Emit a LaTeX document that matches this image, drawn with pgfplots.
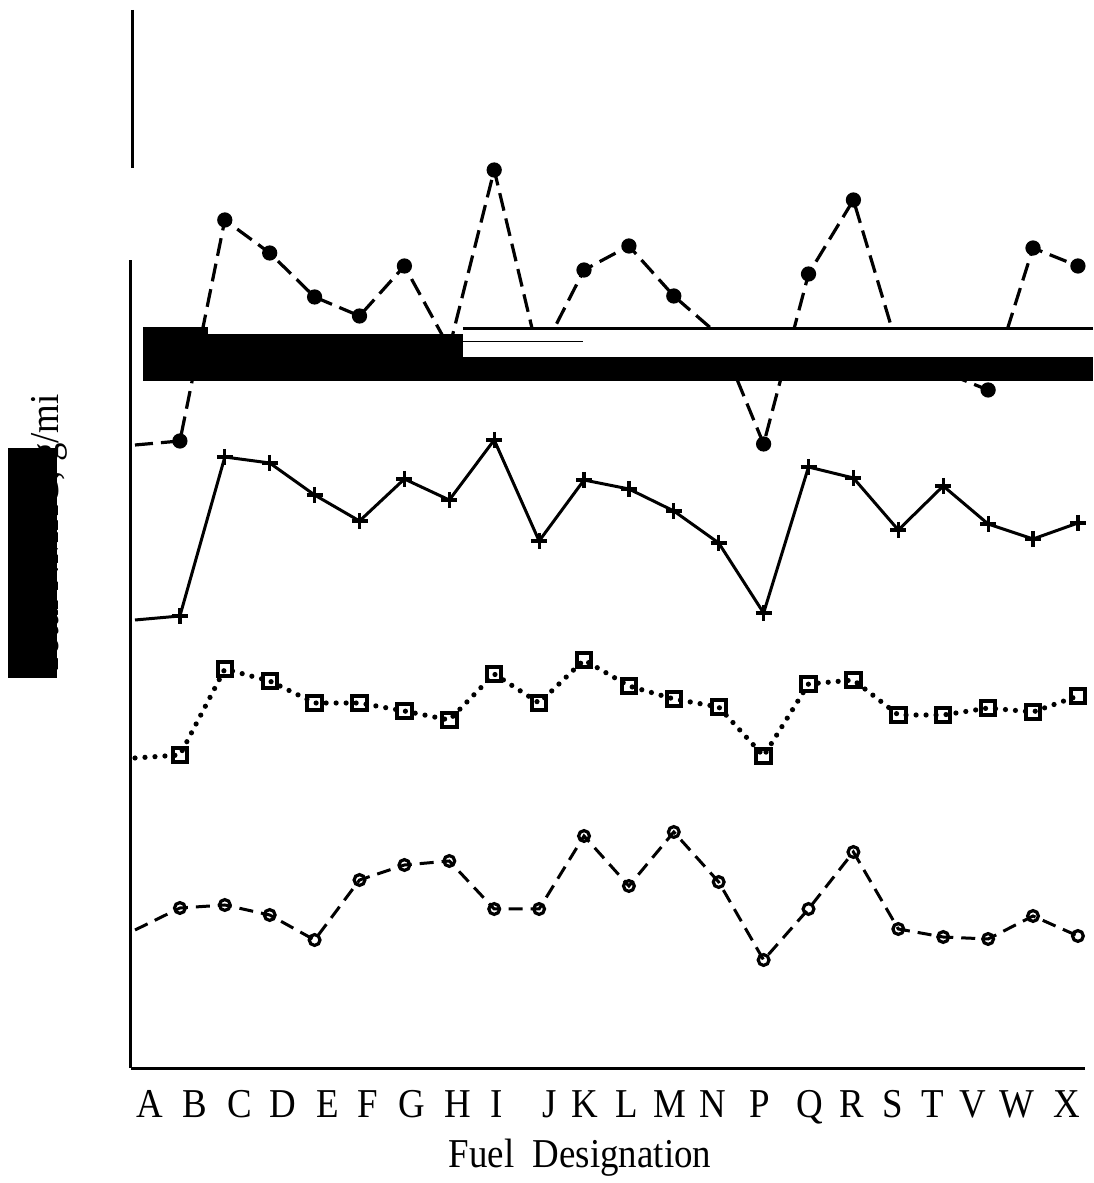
\documentclass[border=0pt]{standalone}
\usepackage{pgfplots}
\pgfplotsset{compat=1.18}
\usepackage{fontspec}
\setmainfont{Liberation Serif}[FakeStretch=0.9]
\begin{document}
\begin{tikzpicture}
\begin{axis}[
  set layers,
  x=22.45pt, y=0.5pt,
  xmin=-0.09, xmax=21.16, ymin=0, ymax=808,
  axis x line*=bottom, axis y line*=left,
  axis line style={line width=1.5pt, -},
  ytick=\empty,
  xtick={0.33,1.34,2.34,3.30,4.30,5.19,6.17,7.19,8.06,9.24,10.02,10.96,11.92,12.87,13.92,15.03,15.97,16.88,17.77,18.66,19.64,20.76},
  xticklabels={A,B,C,D,E,F,G,H,I,J,K,L,M,N,P,Q,R,S,T,V,W,X},
  xtick style={draw=none},
  xticklabel style={font=\fontsize{20.5}{24}\selectfont, anchor=base, yshift=-24.5pt},
  clip=false,
]
% filled circles, dashed
\addplot[black, line width=1.6pt, dash pattern=on 9pt off 4pt, mark=*, mark size=3pt, mark phase=2, mark options={solid}]
coordinates {(0,623)(1,627)(2,848)(3,815)(4,771)(5,752)(6,802)(7,720)(8,898)(9,710)(10,798)(11,822)(12,772)(13,733)(14,624)(15,794)(16,868)(17,718)(18,696)(19,678)(20,820)(21,802)};
% plus, solid
\addplot[black, line width=1.5pt, mark=+, mark size=4pt, mark phase=2, mark options={line width=1.6pt}]
coordinates {(0,448)(1,452)(2,611)(3,605)(4,573)(5,547)(6,589)(7,568)(8,628)(9,527)(10,588)(11,579)(12,557)(13,525)(14,455)(15,601)(16,590)(17,538)(18,582)(19,544)(20,529)(21,545)};
% squares, dotted
\addplot[black, line width=2.6pt, line cap=round, dash pattern=on 0pt off 5pt, mark=square, mark size=3.6pt, mark phase=2, mark options={solid, line width=2pt}]
coordinates {(0,310)(1,313)(2,399)(3,387)(4,365)(5,365)(6,357)(7,348)(8,394)(9,365)(10,408)(11,382)(12,369)(13,361)(14,312)(15,384)(16,388)(17,353)(18,353)(19,360)(20,356)(21,372)};
% open circles, dashed
\addplot[black, line width=1.5pt, dash pattern=on 7pt off 4pt, mark=o, mark size=2.7pt, mark phase=2, mark options={solid, line width=1.6pt}]
coordinates {(0,138)(1,160)(2,163)(3,153)(4,128)(5,188)(6,203)(7,207)(8,159)(9,159)(10,232)(11,182)(12,236)(13,186)(14,108)(15,159)(16,216)(17,139)(18,131)(19,129)(20,152)(21,132)};
\begin{pgfonlayer}{axis foreground}
% scan band across the plot
\fill[white] (axis cs:7.127,739) rectangle (axis cs:21.336,711);
\fill[black] (axis cs:0.178,741) rectangle (axis cs:1.63,687);
\fill[black] (axis cs:1.63,734) rectangle (axis cs:7.127,687);
\fill[black] (axis cs:7.127,711) rectangle (axis cs:21.336,687);
\fill[black] (axis cs:7.127,734) rectangle (axis cs:7.30,711);
\draw[line width=1.5pt] (axis cs:7.30,739) -- (axis cs:21.336,739);
\draw[line width=0.5pt] (axis cs:7.3,726) -- (axis cs:9.98,726);
% y label scan box
\fill[black] (axis cs:-2.83,390) rectangle (axis cs:-1.74,620);
\end{pgfonlayer}
% stray top line
\draw[line width=1.5pt] (axis cs:-0.045,1058) -- (axis cs:-0.045,900);
\node[rotate=90, anchor=base, font=\fontsize{20.5}{24}\selectfont] at (axis cs:-1.70,533) {Total NMHC, g/mi};
% x label
\node[anchor=base, yshift=-49.5pt, font=\fontsize{20.5}{24}\selectfont] at (axis cs:9.91,0) {Fuel\ \ Designation};
\coordinate (tl) at (axis cs:-3.007,1068);
\coordinate (br) at (axis cs:21.336,-115);
\end{axis}
\pgfresetboundingbox
\path[use as bounding box] (tl) rectangle (br);
\end{tikzpicture}
\end{document}
